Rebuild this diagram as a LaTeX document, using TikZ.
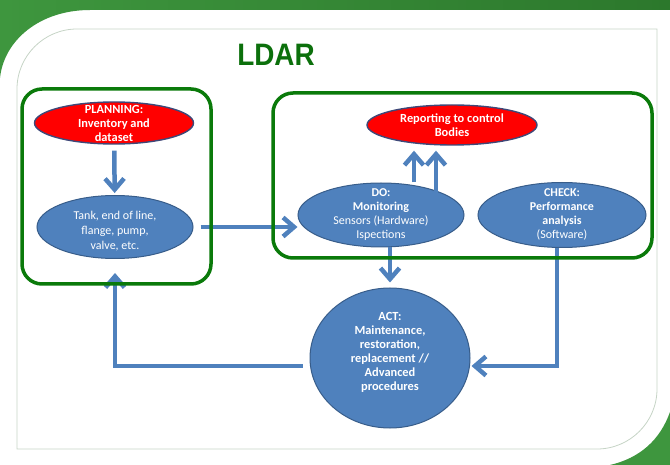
\documentclass[tikz,border=0pt]{standalone}
\usepackage{fontspec}
\setmainfont{Carlito}
\newfontfamily\titlefont{Liberation Sans}
\usetikzlibrary{arrows.meta,positioning,shapes.geometric,calc}
\definecolor{slidegreen}{RGB}{44,120,44}
\definecolor{slidegreenlight}{RGB}{62,150,62}
\definecolor{framegrey}{RGB}{198,212,198}
\definecolor{titlegreen}{RGB}{12,112,12}
\definecolor{boxgreen}{RGB}{10,122,10}
\definecolor{blobblue}{RGB}{79,129,189}
\definecolor{blobborder}{RGB}{56,93,138}
\definecolor{blobred}{RGB}{255,0,0}
\definecolor{redborder}{RGB}{62,72,120}
\tikzset{
    blob/.style={ellipse,fill=blobblue,draw=blobborder,line width=1pt,inner sep=0pt},
    redblob/.style={blob,fill=blobred,draw=redborder,line width=1.4pt},
    txt/.style={text=white,align=center,inner sep=0pt,font=\fontsize{12}{14}\selectfont},
    boldtxt/.style={txt,font=\fontsize{12.4}{14}\selectfont\bfseries},
    groupbox/.style={draw=boxgreen,line width=3.5pt,rounded corners=20pt,inner sep=0pt},
    flow/.style={draw=blobblue,line width=4.5pt,-{Straight Barb[length=11pt,width=19pt]}},
    frame/.style={draw=framegrey,line width=0.8pt},
}

\begin{document}
\begin{tikzpicture}[x=1pt,y=-1pt]
    \useasboundingbox (0,0) rectangle (670,465);

    % slide background
    \shade[left color=slidegreenlight,right color=slidegreen] (0,0) -- (670,0) -- (670,10) -- (90,10)
        .. controls (40,10) and (4,40) .. (0,78) -- cycle;
    \fill[slidegreenlight] (670,412) .. controls (660,440) and (640,458) .. (610,465) -- (670,465) -- cycle;
    \draw[frame] (17,449) -- (17,89) .. controls (17,56) and (44,29) .. (77,29) -- (657,29) -- (657,389)
        .. controls (657,422) and (630,449) .. (597,449) -- cycle;

    \node[text=titlegreen,inner sep=0pt,font=\titlefont\bfseries\fontsize{31}{31}\selectfont] (ldar) at (276,55) {\scalebox{0.9}[1]{LDAR}};

    % ellipses
    \node[redblob,minimum width=159pt,minimum height=42pt] (plan) at (114,123) {};
    \node[blob,minimum width=156pt,minimum height=63pt] (tank) at (115,227) {};
    \node[redblob,minimum width=170pt,minimum height=40pt] (report) at (452,125) {};
    \node[blob,minimum width=166pt,minimum height=64pt] (do) at (381,215) {};
    \node[blob,minimum width=168pt,minimum height=65pt] (check) at (562,215) {};
    \node[blob,minimum width=160pt,minimum height=140pt] (act) at (390,358) {};

    \node[boldtxt] (plantxt) at (plan) {PLANNING:\\Inventory and\\dataset};
    \node[txt,font=\fontsize{12}{15}\selectfont] (tanktxt) at ([yshift=-4pt]tank.center) {Tank, end of line,\\flange, pump,\\valve, etc.};
    \node[boldtxt] (reporttxt) at (report) {Reporting to control\\Bodies};
    \node[txt] (dotxt) at (do) {\textbf{DO:}\\\textbf{Monitoring}\\Sensors (Hardware)\\Ispections};
    \node[txt] (checktxt) at ([yshift=1pt]check.center) {\textbf{CHECK:}\\\textbf{Performance}\\\textbf{analysis}\\(Software)};
    \node[boldtxt] (acttxt) at ([yshift=6pt]act.center) {ACT:\\Maintenance,\\restoration,\\replacement //\\Advanced\\procedures};

    % connectors
    \draw[flow,shorten <=6pt,shorten >=2pt] (plan) -- (tank);
    \draw[flow,shorten <=7pt] (tank.east) -- (tank.east -| do.west);
    \draw[flow,shorten >=5pt] ([xshift=33pt]do.north) -- ([xshift=33pt]do.north |- report.south);
    \draw[flow,shorten >=5pt] ([shift={(55pt,-17pt)}]do.north) -- ([xshift=55pt]do.north |- report.south);
    \draw[flow,shorten >=5pt] (act.north |- do.south) -- (act.north);
    \draw[flow,shorten >=1pt] ([xshift=-5pt]check.south) |- ([yshift=-8pt]act.east);
    \draw[flow,shorten >=14pt] ([shift={(-7pt,-8pt)}]act.west) -| (tank.south);

    % group boxes
    \node[groupbox,minimum width=189pt,minimum height=195pt] (planbox) at (116.5,186.5) {};
    \node[groupbox,minimum width=379pt,minimum height=165pt] (dobox) at (462.5,175.5) {};
\end{tikzpicture}
\end{document}
